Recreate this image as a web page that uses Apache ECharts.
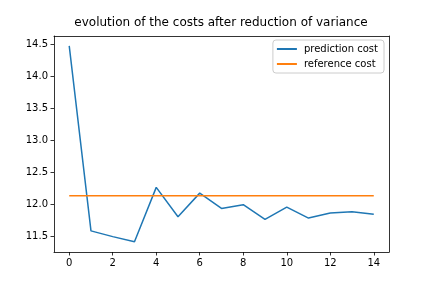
<!DOCTYPE html>
<html>
<head>
<meta charset="utf-8">
<script src="https://cdn.jsdelivr.net/npm/echarts@6/dist/echarts.min.js"></script>
<style>html,body{margin:0;padding:0;background:#fff}#c{width:432px;height:288px}</style>
</head>
<body>
<div id="c"></div>
<script>
var iterations = [0,1,2,3,4,5,6,7,8,9,10,11,12,13,14];
var predictionCost = [14.47,11.58,11.49,11.41,12.26,11.80,12.17,11.93,11.99,11.76,11.95,11.78,11.86,11.88,11.84];
var referenceCost = [12.13,12.13,12.13,12.13,12.13,12.13,12.13,12.13,12.13,12.13,12.13,12.13,12.13,12.13,12.13];
var xTicks = [0,2,4,6,8,10,12,14];
var yTicks = [11.5,12.0,12.5,13.0,13.5,14.0,14.5];
var titleText = 'evolution of the costs after reduction of variance';
var seriesNames = ['prediction cost','reference cost'];

var font = 'DejaVu Sans';
function pairs(xs, ys){ return xs.map(function(x,i){ return [x, ys[i]]; }); }
var chart = echarts.init(document.getElementById('c'), null, {renderer:'canvas'});
var axisLine = {show:true, onZero:false, lineStyle:{color:'#000', width:0.8}};
chart.setOption({
  animation:false,
  backgroundColor:'#fff',
  title:{text:titleText, left:221, top:17, padding:0, textAlign:'center',
    textStyle:{fontFamily:font, fontSize:12, fontWeight:'normal', color:'#000'}},
  legend:{
    orient:'vertical', right:48, top:40, padding:[4,6,4,4],
    borderColor:'#cccccc', borderWidth:1, borderRadius:3, backgroundColor:'rgba(255,255,255,0.8)',
    itemWidth:20, itemHeight:2, itemGap:5, icon:'rect',
    textStyle:{fontFamily:font, fontSize:10, color:'#000', padding:[0,0,0,2]},
    data:seriesNames
  },
  grid:{left:54, right:43, top:36, bottom:36},
  xAxis:[{
    type:'value', min:-0.7, max:14.7, position:'bottom',
    axisLine:axisLine,
    axisTick:{show:true, length:3.5, inside:false, customValues:xTicks, lineStyle:{color:'#000', width:0.8}},
    axisLabel:{customValues:xTicks, margin:6, fontFamily:font, fontSize:10, color:'#000'},
    splitLine:{show:false}
  },{
    type:'value', min:-0.7, max:14.7, position:'top',
    axisLine:axisLine, axisTick:{show:false}, axisLabel:{show:false}, splitLine:{show:false}
  }],
  yAxis:[{
    type:'value', min:11.25, max:14.625, position:'left',
    axisLine:axisLine,
    axisTick:{show:true, length:3.5, customValues:yTicks, lineStyle:{color:'#000', width:0.8}},
    axisLabel:{customValues:yTicks, margin:6, fontFamily:font, fontSize:10, color:'#000',
      formatter:function(v){ return v.toFixed(1); }},
    splitLine:{show:false}
  },{
    type:'value', min:11.25, max:14.625, position:'right',
    axisLine:axisLine, axisTick:{show:false}, axisLabel:{show:false}, splitLine:{show:false}
  }],
  series:[{
    name:seriesNames[0], type:'line', data:pairs(iterations, predictionCost),
    showSymbol:false, symbol:'none', color:'#1f77b4', lineStyle:{width:1.5, color:'#1f77b4'}
  },{
    name:seriesNames[1], type:'line', data:pairs(iterations, referenceCost),
    showSymbol:false, symbol:'none', color:'#ff7f0e', lineStyle:{width:1.5, color:'#ff7f0e'}
  }]
});
</script>
</body>
</html>
